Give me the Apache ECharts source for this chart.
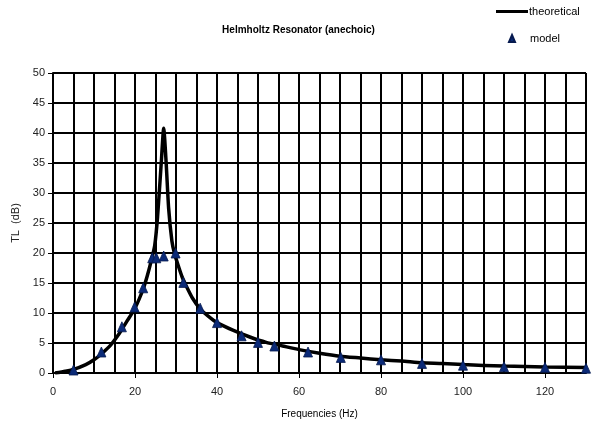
<!DOCTYPE html>
<html>
<head>
<meta charset="utf-8">
<script src="https://cdn.jsdelivr.net/npm/echarts@6/dist/echarts.min.js"></script>
<style>
  html, body { margin: 0; padding: 0; background: #fff; }
  #main { width: 597px; height: 425px; }
</style>
</head>
<body>
<div id="main"></div>
<script>
var myChart = echarts.init(document.getElementById('main'));

// theoretical TL curve
var theoFreq = [0.5, 3, 5, 8, 10, 12, 14, 16, 18, 20, 22, 23, 24, 24.8, 25.5, 26.4, 27, 27.6, 28.2, 29, 29.6, 30.5, 31.5, 32.5,
    34, 36, 38, 40, 44, 48, 52, 56, 60, 65, 70, 75, 80, 85, 90, 95, 100, 110, 120, 130];
var theoTL = [0, 0.3, 0.6, 1.4, 2.2, 3.3, 4.6, 6.4, 8.6, 10.8, 14.0, 16.2, 18.8, 21.2, 26, 35, 40.8, 35, 27.5, 22, 20, 18, 16, 14.5,
    12.5, 10.6, 9.4, 8.4, 7.1, 6.0, 5.1, 4.5, 3.9, 3.3, 2.8, 2.5, 2.2, 2.0, 1.7, 1.6, 1.4, 1.15, 1.0, 0.9];

// model points
var modelFreq = [5, 11.8, 16.8, 19.9, 22, 24.2, 25.2, 27, 29.9, 31.8, 35.9, 40, 46, 50, 54, 62.2, 70.2, 80, 90, 100, 110, 120, 130];
var modelTL = [0.5, 3.5, 7.7, 11, 14.2, 19.2, 19.2, 19.5, 20, 15.1, 10.8, 8.4, 6.2, 5.1, 4.5, 3.5, 2.6, 2.2, 1.6, 1.3, 1.05, 0.95, 0.8];

var xTicks = [0, 20, 40, 60, 80, 100, 120];

var theoData = theoFreq.map(function (f, i) { return [f, theoTL[i]]; });
var modelData = modelFreq.map(function (f, i) { return [f, modelTL[i]]; });

var font = 'Liberation Sans, Arial, sans-serif';

option = {
    backgroundColor: '#fff',
    animation: false,
    textStyle: { fontFamily: font },
    title: {
        text: 'Helmholtz Resonator (anechoic)',
        left: 'center',
        top: 20,
        textStyle: { fontSize: 10, fontWeight: 'bold', color: '#000', fontFamily: font }
    },
    legend: [{
        data: [{ name: 'theoretical', icon: 'rect' }],
        left: 496,
        top: 6,
        padding: 0,
        itemWidth: 32,
        itemHeight: 3,
        textStyle: { fontSize: 11, color: '#000', padding: [0, 0, 0, -4] }
    }, {
        data: [{ name: 'model', icon: 'triangle' }],
        left: 508,
        top: 33,
        padding: 0,
        itemWidth: 6,
        itemHeight: 7,
        textStyle: { fontSize: 11, color: '#000', padding: [0, 0, 0, 10] }
    }],
    grid: {
        left: 53,
        right: 11,
        top: 73,
        bottom: 52
    },
    xAxis: [{
        // grid lines every 5 Hz
        type: 'value',
        min: 0,
        max: 130,
        interval: 5,
        axisLine: { lineStyle: { color: '#000', width: 2 } },
        axisTick: { show: false },
        axisLabel: { show: false },
        splitLine: { show: true, lineStyle: { color: '#000', width: 2 } }
    }, {
        // labelled ticks every 20 Hz
        type: 'value',
        min: 0,
        max: 130,
        position: 'bottom',
        name: 'Frequencies (Hz)',
        nameLocation: 'middle',
        nameGap: 36,
        nameTextStyle: { fontSize: 10, color: '#000' },
        axisLine: { show: false },
        axisTick: { show: true, customValues: xTicks, length: 5, lineStyle: { color: '#000', width: 1 } },
        axisLabel: { customValues: xTicks, color: '#222', fontSize: 11, margin: 13 },
        splitLine: { show: false }
    }],
    yAxis: {
        type: 'value',
        min: 0,
        max: 50,
        interval: 5,
        name: 'TL  (dB)',
        nameLocation: 'middle',
        nameGap: 29,
        nameTextStyle: { fontSize: 11, color: '#222' },
        axisLine: { show: true, lineStyle: { color: '#000', width: 2 } },
        axisTick: { show: true, length: 5, lineStyle: { color: '#000', width: 1 } },
        axisLabel: { color: '#222', fontSize: 11, margin: 8 },
        splitLine: { show: true, lineStyle: { color: '#000', width: 2 } }
    },
    series: [{
        name: 'theoretical',
        type: 'line',
        data: theoData,
        showSymbol: false,
        smooth: 0.2,
        lineStyle: { color: '#000', width: 3.5 },
        itemStyle: { color: '#000' },
        z: 3
    }, {
        name: 'model',
        type: 'scatter',
        data: modelData,
        symbol: 'triangle',
        symbolSize: [9, 10],
        itemStyle: { color: '#0b2a78', borderColor: '#061a4f', borderWidth: 0.8, opacity: 1 },
        z: 4
    }]
};
myChart.setOption(option);
</script>
</body>
</html>
